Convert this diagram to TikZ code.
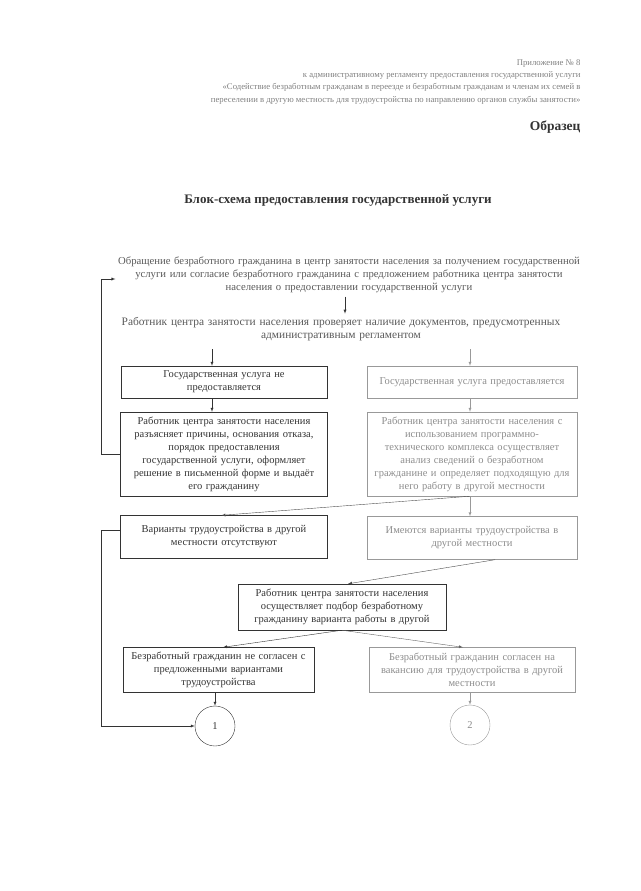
\documentclass[tikz,border=0pt]{standalone}
\usepackage{fontspec}
\setmainfont{Liberation Serif}

\newcommand{\bodysize}{\fontsize{10.5}{13}\selectfont}
\newcommand{\plainsize}{\fontsize{11.4}{13}\selectfont}
\newcommand{\headsize}{\fontsize{8.7}{12.3}\selectfont}

\tikzstyle{block} = [rectangle, draw, text centered, inner xsep = 3pt, inner ysep = 2pt, font = \bodysize]
\tikzstyle{plain} = [text centered, font = \plainsize]
\tikzstyle{faded} = [draw = black!40, text = black!45]
\tikzstyle{circ} = [circle, draw, minimum size = 40pt, font = \bodysize]
\tikzstyle{line} = [draw, -latex]

\begin{document}
\begin{tikzpicture}[x = 1pt, y = -1pt, node distance = 72pt, color = black!80]

  \useasboundingbox (0,0) rectangle (640,891);

  % header
  \node[anchor = north east, align = right, font = \headsize, text = black!50] (appendix) at (584,56)
    {Приложение № 8\\
     к административному регламенту предоставления государственной услуги\\
     «Содействие безработным гражданам в переезде и безработным гражданам и членам их семей в\\
     переселении в другую местность для трудоустройства по направлению органов службы занятости»};
  \node[anchor = east, font = \bfseries\fontsize{13.5}{15}\selectfont] (sample) at (584,127) {Образец};
  \node[font = \bfseries\fontsize{13}{15}\selectfont] (title) at (338,200) {Блок-схема предоставления государственной услуги};

  % flow
  \node[plain, text width = 520pt, text = black!65, font = \fontsize{10.7}{13}\selectfont] (request) at (349,275)
    {Обращение безработного гражданина в центр занятости населения за получением государственной\\
     услуги или согласие безработного гражданина с предложением работника центра занятости\\
     населения о предоставлении государственной услуги};
  \node[plain, text width = 480pt, text = black!65, below of = request, node distance = 54pt, xshift = -8pt] (check)
    {Работник центра занятости населения проверяет наличие документов, предусмотренных\\
     административным регламентом};

  \node[block, text width = 200pt, minimum height = 32pt] (refuse) at (224,382)
    {Государственная услуга не\\ предоставляется};
  \node[block, faded, text width = 204pt, minimum height = 32pt, right of = refuse, node distance = 248pt] (grant)
    {Государственная услуга предоставляется};
  \node[block, text width = 201pt, minimum height = 84pt, below of = refuse] (explain)
    {Работник центра занятости населения\\
     разъясняет причины, основания отказа,\\
     порядок предоставления\\
     государственной услуги, оформляет\\
     решение в письменной форме и выдаёт\\
     его гражданину};
  \node[block, faded, text width = 204pt, minimum height = 84pt, below of = grant] (analyse)
    {Работник центра занятости населения с\\
     использованием программно-\\
     технического комплекса осуществляет\\
     анализ сведений о безработном\\
     гражданине и определяет подходящую для\\
     него работу в другой местности};
  \node[block, text width = 201pt, minimum height = 43pt, below of = explain, node distance = 83pt] (novac)
    {Варианты трудоустройства в другой\\ местности отсутствуют};
  \node[block, faded, text width = 204pt, minimum height = 43pt, below of = analyse, node distance = 84pt] (hasvac)
    {Имеются варианты трудоустройства в\\ другой местности};
  \node[block, text width = 202pt, minimum height = 46pt] (select) at (342,607)
    {Работник центра занятости населения\\
     осуществляет подбор безработному\\
     гражданину варианта работы в другой};
  \node[block, text width = 185pt, minimum height = 45pt] (disagree) at (218.5,670)
    {Безработный гражданин не согласен с\\ предложенными вариантами\\ трудоустройства};
  \node[block, faded, text width = 200pt, minimum height = 45pt] (agree) at (472,670)
    {Безработный гражданин согласен на\\ вакансию для трудоустройства в другой\\ местности};
  \node[circ] (one) at (215,726) {1};
  \node[circ, faded] (two) at (470,725) {2};

  \coordinate (midx) at (345,0);
  \coordinate (leftx) at (212,0);
  \coordinate (rightx) at (470,0);
  \coordinate (backx) at (101,0);

  \path [line] (request.south -| midx) -- (check.north -| midx);
  \path [line] ([yshift = -5pt]check.south -| leftx) -- (refuse.north -| leftx);
  \path [line, faded] ([yshift = -5pt]check.south -| rightx) -- (grant.north -| rightx);
  \path [line] (refuse.south -| leftx) -- (explain.north -| leftx);
  \path [line, faded] (grant.south -| rightx) -- (analyse.north -| rightx);
  \path [line] (explain.west) -- (explain.west -| backx) |- ([xshift = 30pt, yshift = -4pt]request.west);
  \path [line, faded] (analyse.south -| rightx) -- (hasvac.north -| rightx);
  \path [line, draw = black!70] (analyse.south -| rightx) -- ([xshift = -2.5pt]novac.north);
  \path [line] ([yshift = 7pt]novac.west) -- ([yshift = 7pt]novac.west -| backx) |- (one.west);
  \path [line, draw = black!70] ([xshift = 23pt]hasvac.south) -- ([xshift = 6pt]select.north);
  \path [line] (select.south) -- ([xshift = 4.5pt]disagree.north);
  \path [line, draw = black!60] (select.south) -- ([xshift = -9pt]agree.north);
  \path [line] (one.north |- disagree.south) -- (one.north);
  \path [line, faded] (two.north |- agree.south) -- (two.north);

\end{tikzpicture}
\end{document}
